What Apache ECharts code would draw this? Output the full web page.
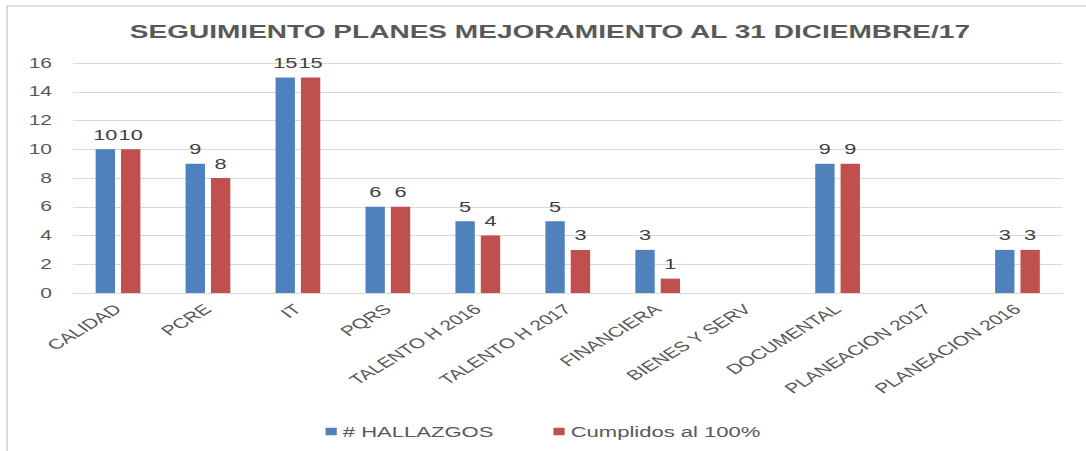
<!DOCTYPE html>
<html><head><meta charset="utf-8">
<script src="https://cdn.jsdelivr.net/npm/echarts@6/dist/echarts.min.js"></script>
<style>
html,body{margin:0;padding:0;overflow:hidden;background:#fff;width:1086px;height:451px}
#wrap{width:1086px;height:451px;overflow:hidden;position:relative}
#chart{width:724px;height:451px;transform:scale(1.5,1);transform-origin:0 0;position:absolute;left:0;top:0}
</style></head><body><div id="wrap"><div id="chart"></div></div>
<script>
const titleText = 'SEGUIMIENTO PLANES MEJORAMIENTO AL 31 DICIEMBRE/17';
const categories = ['CALIDAD','PCRE','IT','PQRS','TALENTO H 2016','TALENTO H 2017','FINANCIERA','BIENES Y SERV','DOCUMENTAL','PLANEACION 2017','PLANEACION 2016'];
const seriesNames = ['# HALLAZGOS','Cumplidos al 100%'];
const hallazgos = [10, 9, 15, 6, 5, 5, 3, null, 9, null, 3];
const cumplidos = [10, 8, 15, 6, 4, 3, 1, null, 9, null, 3];
const yMin = 0, yMax = 16, yStep = 2;

const font = '"Liberation Sans", Arial, sans-serif';
const chart = echarts.init(document.getElementById('chart'), null, {renderer: 'svg'});
chart.setOption({
  animation: false,
  backgroundColor: '#fff',
  title: {
    text: titleText, left: 86.5, top: 21.5, padding: 0,
    textStyle: {fontFamily: font, fontSize: 18.7, fontWeight: 'bold', color: '#595959'}
  },
  legend: {
    data: seriesNames, top: 424, left: 'center', padding: 0,
    itemWidth: 7.5, itemHeight: 7.5, itemGap: 40, icon: 'rect',
    textStyle: {fontFamily: font, fontSize: 14.7, color: '#595959', padding: [0,0,0,-1]}
  },
  grid: {left: 48.7, right: 15.7, top: 63, bottom: 158, containLabel: false},
  xAxis: {
    type: 'category', data: categories,
    axisLine: {show: true, lineStyle: {color: '#d9d9d9', width: 1}},
    axisTick: {show: false},
    axisLabel: {interval: 0, rotate: 42, margin: 14,
      fontFamily: font, fontSize: 14, color: '#595959'}
  },
  yAxis: {
    type: 'value', min: yMin, max: yMax, interval: yStep,
    axisLine: {show: false}, axisTick: {show: false},
    splitLine: {lineStyle: {color: '#d9d9d9', width: 1}},
    axisLabel: {margin: 14, fontFamily: font, fontSize: 14, color: '#595959'}
  },
  graphic: [{
    type: 'rect', silent: true, z: 100,
    shape: {x: 4.7, y: 6, width: 900, height: 600},
    style: {fill: 'none', stroke: '#d9d9d9', lineWidth: 1.3}
  }],
  series: [
    {name: seriesNames[0], type: 'bar', data: hallazgos, barWidth: 12.9, barGap: '31%',
     itemStyle: {color: '#4F81BD'},
     label: {show: true, position: 'top', distance: 7, fontFamily: font, fontSize: 14.5, color: '#404040'}},
    {name: seriesNames[1], type: 'bar', data: cumplidos, barWidth: 12.9, barGap: '31%',
     itemStyle: {color: '#C0504D'},
     label: {show: true, position: 'top', distance: 7, fontFamily: font, fontSize: 14.5, color: '#404040'}}
  ]
});
</script></body></html>
